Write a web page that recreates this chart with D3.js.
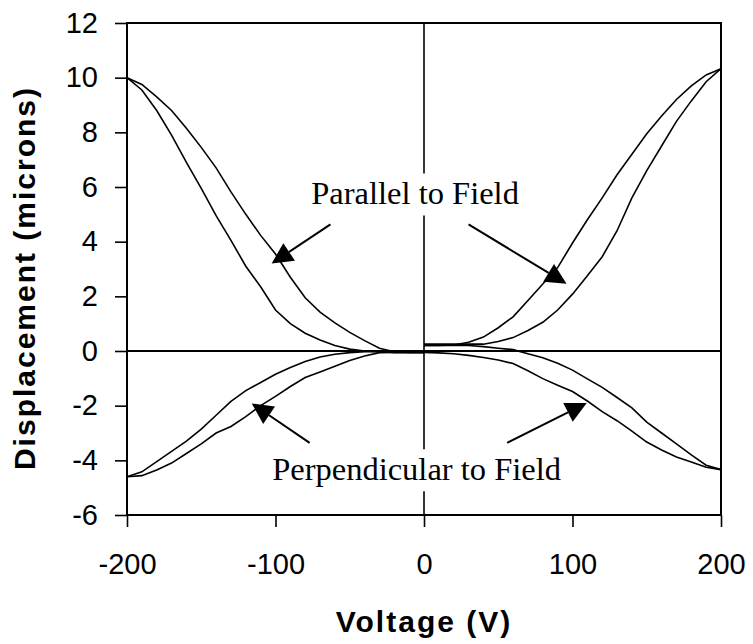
<!DOCTYPE html>
<html lang="en">
<head>
    <meta charset="UTF-8">
    <title>Displacement vs Voltage</title>
    <script src="https://d3js.org/d3.v7.min.js"></script>
    <style>
        body {
            margin: 0;
            background-color: white;
        }
        .tick text {
            font-family: 'Liberation Sans', Arial, sans-serif;
            font-size: 29px;
            fill: black;
        }
        .axis-title {
            font-family: 'Liberation Sans', Arial, sans-serif;
            font-weight: bold;
            font-size: 30px;
            letter-spacing: 2px;
        }
        .note {
            font-family: 'Liberation Serif', 'Times New Roman', serif;
            font-size: 32.5px;
        }
    </style>
</head>
<body>
    <div id="chart"></div>

    <script>
        // voltage steps (V) for each half of the sweep
        const voltsPos = [0, 10, 20, 30, 40, 50, 60, 70, 80, 90, 100, 110, 120, 130, 140, 150, 160, 170, 180, 190, 200];
        const voltsNeg = [-200, -190, -180, -170, -160, -150, -140, -130, -120, -110, -100, -90, -80, -70, -60, -50, -40, -30, -20, -10, 0];

        // displacement (microns), parallel to field
        const parPosA = [0.2, 0.2, 0.22, 0.32, 0.51, 0.85, 1.25, 1.85, 2.45, 3.05, 3.95, 4.8, 5.6, 6.45, 7.2, 7.95, 8.6, 9.2, 9.7, 10.1, 10.33];
        const parPosB = [0.25, 0.25, 0.25, 0.25, 0.25, 0.35, 0.49, 0.75, 1.05, 1.5, 2.08, 2.75, 3.45, 4.4, 5.6, 6.6, 7.5, 8.4, 9.15, 9.85, 10.33];
        const parNegA = [10.0, 9.75, 9.3, 8.8, 8.15, 7.45, 6.7, 5.82, 5.0, 4.23, 3.55, 2.7, 1.95, 1.42, 1.03, 0.68, 0.38, 0.1, -0.03, -0.05, -0.05];
        const parNegB = [10.0, 9.55, 8.8, 7.9, 6.9, 5.95, 4.95, 4.05, 3.1, 2.35, 1.5, 1.0, 0.65, 0.4, 0.2, 0.07, 0.0, -0.03, -0.05, -0.05, -0.05];

        // displacement (microns), perpendicular to field
        const perPosA = [0.2, 0.2, 0.2, 0.2, 0.16, 0.1, 0.05, -0.1, -0.25, -0.45, -0.7, -1.02, -1.33, -1.7, -2.08, -2.6, -3.0, -3.4, -3.8, -4.18, -4.34];
        const perPosB = [-0.05, -0.07, -0.1, -0.16, -0.24, -0.33, -0.46, -0.72, -1.01, -1.25, -1.48, -1.83, -2.22, -2.55, -2.93, -3.33, -3.62, -3.88, -4.06, -4.25, -4.34];
        const perNegA = [-4.6, -4.42, -4.05, -3.67, -3.3, -2.86, -2.35, -1.84, -1.45, -1.15, -0.85, -0.6, -0.38, -0.22, -0.12, -0.06, -0.03, -0.02, -0.05, -0.05, -0.05];
        const perNegB = [-4.6, -4.56, -4.35, -4.1, -3.75, -3.4, -3.0, -2.76, -2.4, -2.0, -1.66, -1.3, -0.97, -0.77, -0.56, -0.35, -0.18, -0.06, -0.05, -0.05, -0.05];

        // tick values
        const xTicks = [-200, -100, 0, 100, 200];
        const yTicks = [-6, -4, -2, 0, 2, 4, 6, 8, 10, 12];

        // labels and arrows, in data units
        const notes = [
            {text: "Parallel to Field", v: -6, d: 5.36},
            {text: "Perpendicular to Field", v: -5, d: -4.73}
        ];
        const arrows = [
            {from: [-63, 4.63], to: [-102.6, 3.2]},
            {from: [30, 4.63], to: [96, 2.46]},
            {from: [-77, -3.36], to: [-116, -1.92]},
            {from: [56, -3.36], to: [109.6, -1.9]}
        ];

        const W = 753, H = 644;
        const margin = {top: 23, right: 32, bottom: 129, left: 127};
        const width = W - margin.left - margin.right,
            height = H - margin.top - margin.bottom;

        const svg = d3.select("#chart")
            .append("svg")
                .attr("width", W)
                .attr("height", H)
            .append("g")
                .attr("transform", `translate(${margin.left},${margin.top})`);

        const x = d3.scaleLinear().domain([-200, 200]).range([0, width]);
        const y = d3.scaleLinear().domain([-6, 12]).range([height, 0]);

        // axes (ticks outside)
        const xAxis = svg.append("g")
            .attr("transform", `translate(0,${height})`)
            .call(d3.axisBottom(x).tickValues(xTicks).tickSize(12).tickPadding(26).tickFormat(d3.format("d")));
        const yAxis = svg.append("g")
            .call(d3.axisLeft(y).tickValues(yTicks).tickSize(12).tickPadding(17).tickFormat(d3.format("d")));
        [xAxis, yAxis].forEach(a => {
            a.select(".domain").remove();
            a.selectAll(".tick line").attr("stroke", "black").attr("stroke-width", 1.6);
        });
        // use a real minus-less hyphen like the original
        svg.selectAll(".tick text").text(d => String(d));

        // zero lines
        svg.append("line")
            .attr("x1", 0).attr("x2", width)
            .attr("y1", y(0)).attr("y2", y(0))
            .attr("stroke", "black").attr("stroke-width", 2);
        svg.append("line")
            .attr("x1", x(0)).attr("x2", x(0))
            .attr("y1", 0).attr("y2", height)
            .attr("stroke", "black").attr("stroke-width", 1.6);

        // plot frame
        svg.append("rect")
            .attr("width", width).attr("height", height)
            .attr("fill", "none")
            .attr("stroke", "black").attr("stroke-width", 2);

        // text labels with a white box behind them
        notes.forEach(n => {
            const t = svg.append("text")
                .attr("class", "note")
                .attr("x", x(n.v))
                .attr("y", y(n.d))
                .attr("text-anchor", "middle")
                .text(n.text);
            const bb = t.node().getBBox();
            svg.insert("rect", "text.note")
                .attr("x", bb.x - 4).attr("y", bb.y - 2)
                .attr("width", bb.width + 8).attr("height", bb.height + 6)
                .attr("fill", "white");
        });

        // the curves
        const line = d3.line().x(d => x(d[0])).y(d => y(d[1]));
        const series = [
            d3.zip(voltsPos, parPosA), d3.zip(voltsPos, parPosB),
            d3.zip(voltsNeg, parNegA), d3.zip(voltsNeg, parNegB),
            d3.zip(voltsPos, perPosA), d3.zip(voltsPos, perPosB),
            d3.zip(voltsNeg, perNegA), d3.zip(voltsNeg, perNegB)
        ];
        svg.append("g").selectAll("path")
            .data(series)
            .join("path")
                .attr("fill", "none")
                .attr("stroke", "black")
                .attr("stroke-width", 1.6)
                .attr("d", line);

        // arrows with filled triangle heads
        const headLen = 21, headHalf = 10.5;
        arrows.forEach(a => {
            const x0 = x(a.from[0]), y0 = y(a.from[1]);
            const x1 = x(a.to[0]), y1 = y(a.to[1]);
            const len = Math.hypot(x1 - x0, y1 - y0);
            const ux = (x1 - x0) / len, uy = (y1 - y0) / len;
            const bx = x1 - ux * headLen, by = y1 - uy * headLen;
            svg.append("line")
                .attr("x1", x0).attr("y1", y0)
                .attr("x2", bx).attr("y2", by)
                .attr("stroke", "black").attr("stroke-width", 2);
            svg.append("path")
                .attr("d", `M${x1},${y1}L${bx - uy * headHalf},${by + ux * headHalf}L${bx + uy * headHalf},${by - ux * headHalf}Z`)
                .attr("fill", "black");
        });

        // axis titles
        svg.append("text")
            .attr("class", "axis-title")
            .attr("x", x(0))
            .attr("y", 632 - margin.top)
            .attr("text-anchor", "middle")
            .text("Voltage (V)");
        svg.append("text")
            .attr("class", "axis-title")
            .attr("transform", `translate(${35 - margin.left},${278 - margin.top}) rotate(-90)`)
            .attr("text-anchor", "middle")
            .text("Displacement (microns)");
    </script>
</body>
</html>
